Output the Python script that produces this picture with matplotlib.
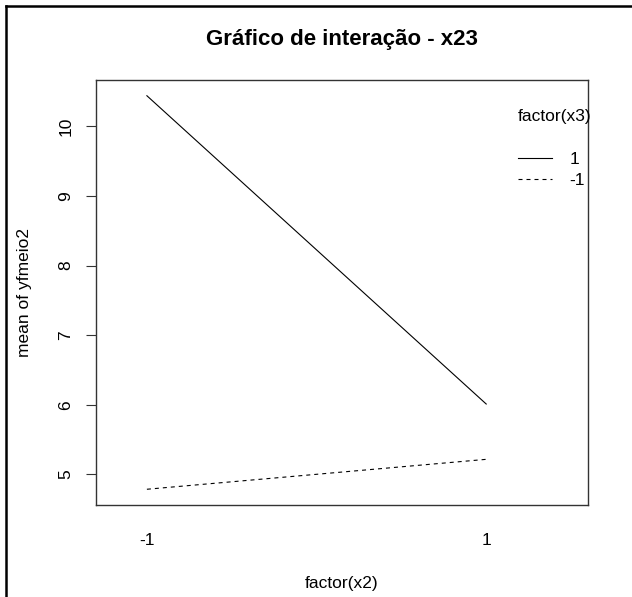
import matplotlib
matplotlib.use("Agg")
import matplotlib.pyplot as plt
from matplotlib.lines import Line2D

plt.rcParams['font.family'] = ['Liberation Sans', 'DejaVu Sans']

# interaction data: mean of yfmeio2 by factor(x2) for each level of factor(x3)
x2_levels = ['-1', '1']
x3_levels = ['1', '-1']
mean_x3_pos = [10.44, 6.01]   # factor(x3) = 1
mean_x3_neg = [4.785, 5.215]  # factor(x3) = -1
series = [mean_x3_pos, mean_x3_neg]
styles = ['-', (0, (3.6, 3.6))]

W, H = 632, 597
fig = plt.figure(figsize=(W / 100, H / 100), dpi=100)
ax = fig.add_axes([96 / W, 1 - 505 / H, (588 - 96) / W, (505 - 80) / H])

xpos = list(range(1, len(x2_levels) + 1))
for vals, ls, lab in zip(series, styles, x3_levels):
    ax.plot(xpos, vals, color='black', linewidth=0.8, linestyle=ls, label=lab)

# R style limits: 4% extension on y, extra room on the right for the legend
allv = mean_x3_pos + mean_x3_neg
lo, hi = min(allv), max(allv)
ext = 0.04 * (hi - lo)
ax.set_ylim(lo - ext, hi + ext)
ax.set_xlim(0.85, 2.30)

ax.set_xticks(xpos)
ax.set_xticklabels(x2_levels)
ax.set_yticks([5, 6, 7, 8, 9, 10])
ax.tick_params(axis='x', length=0, pad=20, labelsize=12.5)
ax.tick_params(axis='y', length=7.2, width=0.8, color='#333333', pad=9, labelsize=12.5)
for t in ax.get_yticklabels():
    t.set_rotation(90)
    t.set_va('center')

for sp in ax.spines.values():
    sp.set_color('#333333')
    sp.set_linewidth(1.0)

ax.set_xlabel('factor(x2)', fontsize=12.5)
ax.xaxis.set_label_coords(0.5, -0.167)
ax.set_ylabel('mean of yfmeio2', fontsize=12.5)
ax.yaxis.set_label_coords(-0.130, 0.5)

fig.text(342 / W, 1 - 39 / H, 'Gráfico de interação - x23', fontsize=16,
         fontweight='bold', ha='center', va='center')

# legend
ax.text(0.933, 0.915, 'factor(x3)', transform=ax.transAxes, fontsize=12.5,
        ha='center', va='center')
ax.legend(loc='upper left', bbox_to_anchor=(0.857, 0.831), frameon=False,
          fontsize=12.5, borderpad=0, handlelength=2.0, handletextpad=1.0,
          labelspacing=0.33, borderaxespad=0)

# outer screenshot frame (top and left edges)
fig.add_artist(Line2D([6 / W, 6 / W], [0, 1 - 6 / H], transform=fig.transFigure,
                      color='black', linewidth=1.8))
fig.add_artist(Line2D([6 / W, 1], [1 - 6 / H, 1 - 6 / H], transform=fig.transFigure,
                      color='black', linewidth=1.8))

fig.savefig('out.png', dpi=100)
